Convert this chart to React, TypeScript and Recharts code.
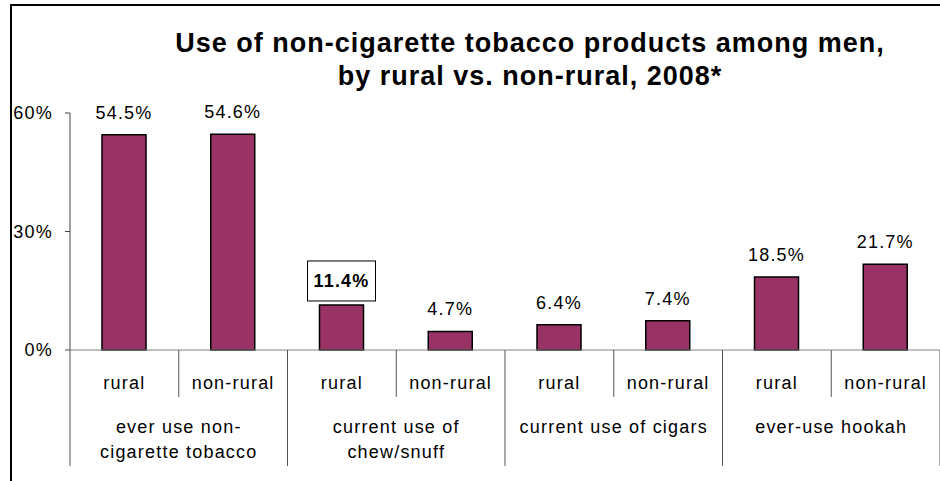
import { Bar, BarChart, LabelList, XAxis, YAxis } from "recharts";

const groupLabels = [
  ["ever use non-", "cigarette tobacco"],
  ["current use of", "chew/snuff"],
  ["current use of cigars"],
  ["ever-use hookah"],
];
const places = ["rural", "non-rural"];
const ruralValues = [54.5, 11.4, 6.4, 18.5];
const nonRuralValues = [54.6, 4.7, 7.4, 21.7];
const yTicks = [0, 30, 60];
// the one value that is boxed and bold in the original
const highlightGroup = 1;
const highlightPlace = "rural";

const data = groupLabels.flatMap((lines, g) =>
  places.map((place, p) => ({
    key: `${g}-${place}`,
    place,
    group: lines,
    value: p === 0 ? ruralValues[g] : nonRuralValues[g],
    highlight: g === highlightGroup && place === highlightPlace,
  }))
);

const FONT = '"Liberation Sans", Arial, sans-serif';
const PLOT_LEFT = 70;
const PLOT_RIGHT = 940;
const HALF = (PLOT_RIGHT - PLOT_LEFT) / data.length / 2;

const CategoryTick = (props: any) => {
  const { x, y, index } = props;
  const row = data[index];
  const sepColor = "#555";
  return (
    <g>
      <text x={x} y={y + 33} textAnchor="middle" dominantBaseline="central" fontSize={18} letterSpacing={1.2} fill="#000" fontFamily={FONT}>
        {row.place}
      </text>
      {index === 0 && <line x1={x - HALF} x2={x - HALF} y1={y} y2={y + 116} stroke={sepColor} />}
      {index % 2 === 0 ? (
        <line x1={x + HALF} x2={x + HALF} y1={y} y2={y + 47} stroke={sepColor} />
      ) : (
        <>
          <line x1={x + HALF} x2={x + HALF} y1={y} y2={y + 116} stroke={sepColor} />
          {row.group.map((line: string, i: number) => (
            <text key={i} x={x - HALF} y={y + 77 + i * 25} textAnchor="middle" dominantBaseline="central" fontSize={18} letterSpacing={1.2} fill="#000" fontFamily={FONT}>
              {line}
            </text>
          ))}
        </>
      )}
    </g>
  );
};

const ValueLabel = (props: any) => {
  const { x, y, width, value, index } = props;
  const cx = x + width / 2;
  const text = `${value.toFixed(1)}%`;
  if (data[index].highlight) {
    const cy = y - 24;
    return (
      <g>
        <rect x={cx - 34} y={cy - 20} width={68} height={40} fill="#fff" stroke="#000" strokeWidth={1} />
        <text x={cx} y={cy} textAnchor="middle" dominantBaseline="central" fontSize={18} fontWeight="bold" letterSpacing={1.2} fill="#000" fontFamily={FONT}>
          {text}
        </text>
      </g>
    );
  }
  return (
    <text x={cx} y={y - 22} textAnchor="middle" dominantBaseline="central" fontSize={18} letterSpacing={1.2} fill="#000" fontFamily={FONT}>
      {text}
    </text>
  );
};

export default function App() {
  return (
    <div style={{ position: "absolute", left: 0, top: 0, width: 940, height: 481, background: "#fff", fontFamily: FONT }}>
      <div
        style={{
          position: "absolute",
          left: 10,
          top: 4,
          width: 930,
          height: 477,
          borderTop: "2px solid #000",
          borderLeft: "2px solid #000",
          boxSizing: "border-box",
        }}
      />
      <div
        style={{
          position: "absolute",
          left: 120,
          top: 27,
          width: 820,
          textAlign: "center",
          fontSize: 27,
          fontWeight: "bold",
          lineHeight: "33px",
          letterSpacing: 1,
          color: "#000",
        }}
      >
        Use of non-cigarette tobacco products among men,
        <br />
        by rural vs. non-rural, 2008*
      </div>
      <div style={{ position: "absolute", left: 0, top: 0 }}>
        <BarChart width={940} height={481} data={data} margin={{ top: 113, right: 0, bottom: 0, left: 10 }}>
          <YAxis
            width={60}
            domain={[0, 60]}
            ticks={yTicks}
            tickFormatter={(v: number) => `${v}%`}
            axisLine={{ stroke: "#444" }}
            tickLine={{ stroke: "#444" }}
            tickSize={5}
            tickMargin={12}
            tick={{ fontSize: 18, fill: "#000", fontFamily: FONT, letterSpacing: 1.2 }}
          />
          <XAxis
            dataKey="key"
            height={131}
            axisLine={{ stroke: "#808080" }}
            tickLine={false}
            tickSize={0}
            tickMargin={0}
            interval={0}
            tick={<CategoryTick />}
          />
          <Bar dataKey="value" fill="#993366" stroke="#000" strokeWidth={1.5} barSize={44} isAnimationActive={false}>
            <LabelList dataKey="value" content={<ValueLabel />} />
          </Bar>
        </BarChart>
      </div>
    </div>
  );
}
